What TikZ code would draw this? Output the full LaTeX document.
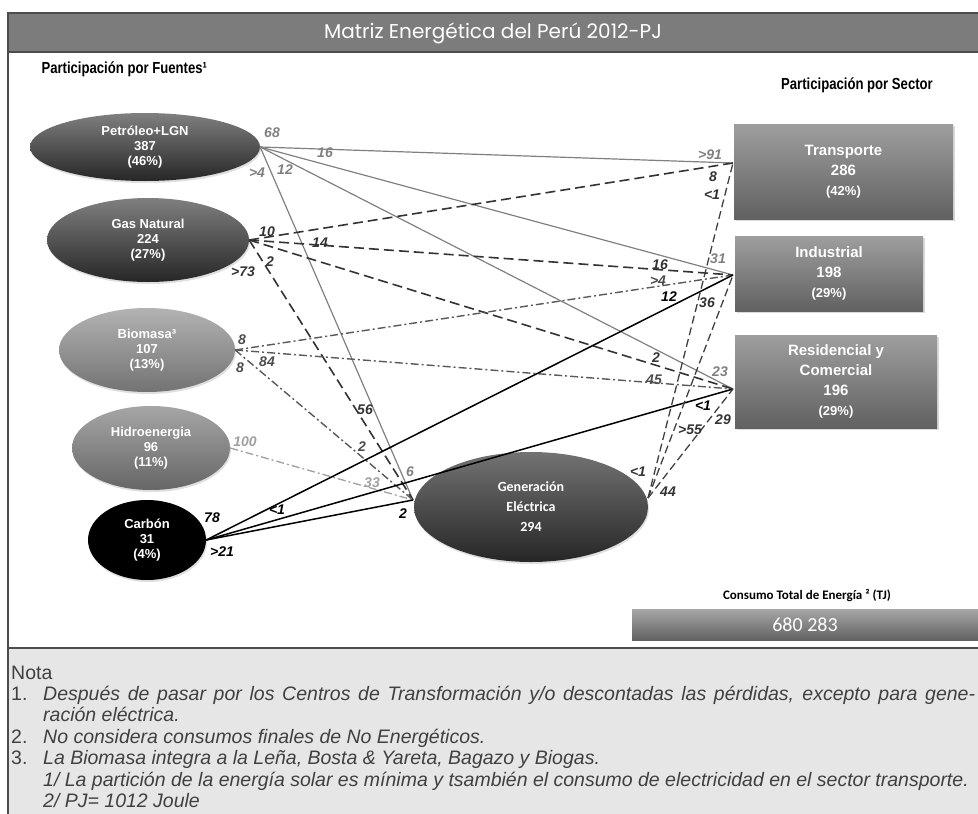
\documentclass[tikz,border=0pt]{standalone}
\usepackage{fontspec}
\setmainfont{Liberation Sans}
\newfontfamily\titlefont{Poppins}
\newfontfamily\calfont{Carlito}
\usetikzlibrary{shapes.geometric,shadows}
\definecolor{hdrgray}{HTML}{7C7C7C}
\definecolor{notebg}{HTML}{E6E6E6}
\definecolor{petgray}{HTML}{808080}
\definecolor{hidgray}{HTML}{A0A0A0}

\begin{document}
\begin{tikzpicture}[x=1pt,y=-1pt,
  src/.style={ellipse,inner sep=0pt,align=center,text=white,font=\fontsize{13}{15}\selectfont\bfseries,drop shadow={shadow xshift=1pt,shadow yshift=-2pt,opacity=0.25}},
  sec/.style={rectangle,inner sep=0pt,align=center,text=white,font=\fontsize{15}{20}\selectfont\bfseries,top color=black!38,bottom color=black!62,drop shadow={shadow xshift=1.5pt,shadow yshift=-2pt,opacity=0.3}},
  petro/.style={petgray,line width=1.2pt},
  gasl/.style={black!80,line width=1.6pt,dash pattern=on 10pt off 5pt},
  biol/.style={black!65,line width=1.4pt,dash pattern=on 8pt off 3pt on 2pt off 3pt},
  hidl/.style={hidgray,line width=1.3pt,dash pattern=on 8pt off 3pt on 2pt off 3pt},
  carl/.style={black,line width=1.5pt},
  elecl/.style={black!75,line width=1.3pt,dash pattern=on 8pt off 4pt},
  lbl/.style={font=\fontsize{14}{14}\selectfont\bfseries\itshape,inner sep=1pt},
  head/.style={font=\fontsize{16}{16}\selectfont\bfseries},
  note/.style={anchor=base west,inner sep=0pt,font=\fontsize{19.5}{19.5}\selectfont\itshape,text=black!75},
  notenum/.style={anchor=base west,inner sep=0pt,font=\fontsize{19.5}{19.5}\selectfont,text=black!75}]
\useasboundingbox (0,0) rectangle (978,814);
% marco y cabecera
\fill[hdrgray] (8,13) rectangle (978,52);
\fill[notebg] (8,648) rectangle (978,814);
\draw[black!70,line width=1.2pt] (8,814) -- (8,13) -- (978,13);
\draw[black!70,line width=1.2pt] (8,52) -- (978,52);
\draw[black!70,line width=1.2pt] (8,648) -- (978,648);
\node[text=white,font=\titlefont\fontsize{20}{20}\selectfont] (titulo) at (493,33) {Matriz Energética del Perú 2012-PJ};
\node[head,anchor=west] (hfuen) at (38,69) {\scalebox{0.82}[1]{Participación por Fuentes¹}};
\node[head] (hsec) at (857,85) {\scalebox{0.82}[1]{Participación por Sector}};
% fuentes
\node[src,top color=black!50,bottom color=black!85,minimum width=230pt,minimum height=68pt] (pet) at (145,147) {Petróleo+LGN\\387\\(46\%)};
\node[src,top color=black!50,bottom color=black!85,minimum width=202pt,minimum height=84pt] (gas) at (148,240) {Gas Natural\\224\\(27\%)};
\node[src,top color=black!30,bottom color=black!55,minimum width=176pt,minimum height=84pt] (bio) at (147,350) {Biomasa³\\107\\(13\%)};
\node[src,top color=black!35,bottom color=black!60,minimum width=158pt,minimum height=84pt] (hid) at (151,448) {Hidroenergia\\96\\(11\%)};
\node[src,fill=black,minimum width=118pt,minimum height=80pt] (car) at (147,540) {Carbón\\31\\(4\%)};
\node[src,top color=black!55,bottom color=black!85,minimum width=234pt,minimum height=110pt,font=\calfont\bfseries\fontsize{14}{20}\selectfont] (gen) at (531,507) {Generación\\Eléctrica\\294};
% sectores
\node[sec,minimum width=219pt,minimum height=95pt] (tra) at (843.5,171.5) {Transporte\\286\\{\fontsize{13}{15}\selectfont(42\%)}};
\node[sec,minimum width=188pt,minimum height=75pt] (ind) at (829,273.5) {Industrial\\198\\{\fontsize{13}{15}\selectfont(29\%)}};
\node[sec,minimum width=202pt,minimum height=93pt] (res) at (836,381.5) {Residencial y\\Comercial\\196\\{\fontsize{13}{15}\selectfont(29\%)}};
\node[font=\calfont\bfseries\fontsize{13}{13}\selectfont] (cons) at (807,596) {Consumo Total de Energía ² (TJ)};
\node[rectangle,top color=black!35,bottom color=black!62,minimum width=346pt,minimum height=31pt,inner sep=0pt,text=white,font=\calfont\fontsize{20}{20}\selectfont] (tot) at (805,625) {680 283};
% puntos de llegada
\coordinate (tra-in) at (733,163);
\coordinate (ind-in) at (733,275);
\coordinate (res-in) at (733,389);
\coordinate (gen-in) at (413,500);
\coordinate (gen-out) at (648,498);
% flujos
\draw[petro] (pet.east) -- (tra-in);
\draw[petro] (pet.east) -- (ind-in);
\draw[petro] (pet.east) -- (res-in);
\draw[petro] (pet.east) -- (gen-in);
\draw[gasl] (gas.east) -- (tra-in);
\draw[gasl] (gas.east) -- (ind-in);
\draw[gasl] (gas.east) -- (res-in);
\draw[gasl] (gas.east) -- (gen-in);
\draw[biol] (bio.east) -- (ind-in);
\draw[biol] (bio.east) -- (res-in);
\draw[biol] (bio.east) -- (gen-in);
\draw[hidl] (hid.east) -- (gen-in);
\draw[carl] (car.east) -- (ind-in);
\draw[carl] (car.east) -- (res-in);
\draw[carl] (car.east) -- (gen-in);
\draw[elecl] (gen-out) -- (tra-in);
\draw[elecl] (gen-out) -- (ind-in);
\draw[elecl] (gen-out) -- (res-in);
% porcentajes
\node[lbl,text=petgray] (pet-tra-s) at (272,133) {68};
\node[lbl,text=petgray] (pet-tra-t) at (710,155) {>91};
\node[lbl,text=petgray] (pet-ind-s) at (325,153) {16};
\node[lbl,text=petgray] (pet-ind-t) at (718,259) {31};
\node[lbl,text=petgray] (pet-res-s) at (285,170) {12};
\node[lbl,text=petgray] (pet-res-t) at (720,372) {23};
\node[lbl,text=petgray] (pet-gen-s) at (257,173) {>4};
\node[lbl,text=petgray] (pet-gen-t) at (410,472) {6};
\node[lbl,text=black!80] (gas-tra-s) at (267,232) {10};
\node[lbl,text=black!80] (gas-tra-t) at (713,177) {8};
\node[lbl,text=black!80] (gas-ind-s) at (320,243) {14};
\node[lbl,text=black!80] (gas-ind-t) at (660,265) {16};
\node[lbl,text=black!80] (gas-res-s) at (270,262) {2};
\node[lbl,text=black!80] (gas-res-t) at (656,358) {2};
\node[lbl,text=black!80] (gas-gen-s) at (243,272) {>73};
\node[lbl,text=black!80] (gas-gen-t) at (365,410) {56};
\node[lbl,text=black!70] (bio-ind-s) at (242,340) {8};
\node[lbl,text=black!70] (bio-ind-t) at (658,281) {>4};
\node[lbl,text=black!70] (bio-res-s) at (267,362) {84};
\node[lbl,text=black!70] (bio-res-t) at (654,380) {45};
\node[lbl,text=black!70] (bio-gen-s) at (240,368) {8};
\node[lbl,text=black!70] (bio-gen-t) at (362,447) {2};
\node[lbl,text=hidgray] (hid-gen-s) at (245,442) {100};
\node[lbl,text=hidgray] (hid-gen-t) at (372,483) {33};
\node[lbl] (car-ind-s) at (212,518) {78};
\node[lbl] (car-ind-t) at (669,297) {12};
\node[lbl] (car-res-s) at (277,510) {<1};
\node[lbl] (car-res-t) at (703,406) {<1};
\node[lbl] (car-gen-s) at (222,552) {>21};
\node[lbl] (car-gen-t) at (403,514) {2};
\node[lbl,text=black!80] (gen-tra-s) at (638,472) {<1};
\node[lbl,text=black!80] (gen-tra-t) at (712,195) {<1};
\node[lbl,text=black!80] (gen-ind-s) at (690,430) {>55};
\node[lbl,text=black!80] (gen-ind-t) at (707,303) {36};
\node[lbl,text=black!80] (gen-res-s) at (668,492) {44};
\node[lbl,text=black!80] (gen-res-t) at (723,420) {29};
% notas
\node[notenum] (nota) at (11,679) {Nota};
\node[notenum] (n1) at (11,700) {1.};
\node[note] (n1a) at (43,700) {\makebox[932pt][s]{Después de pasar por los Centros de Transformación y/o descontadas las pérdidas, excepto para gene-}};
\node[note] (n1b) at (43,721) {ración eléctrica.};
\node[notenum] (n2) at (11,743) {2.};
\node[note] (n2a) at (43,743) {No considera consumos finales de No Energéticos.};
\node[notenum] (n3) at (11,764) {3.};
\node[note] (n3a) at (43,764) {La Biomasa integra a la Leña, Bosta \& Yareta, Bagazo y Biogas.};
\node[note] (n4) at (43,786) {1/ La partición de la energía solar es mínima y tsambién el consumo de electricidad en el sector transporte.};
\node[note] (n5) at (43,807) {2/ PJ= 1012 Joule};
\end{tikzpicture}
\end{document}
